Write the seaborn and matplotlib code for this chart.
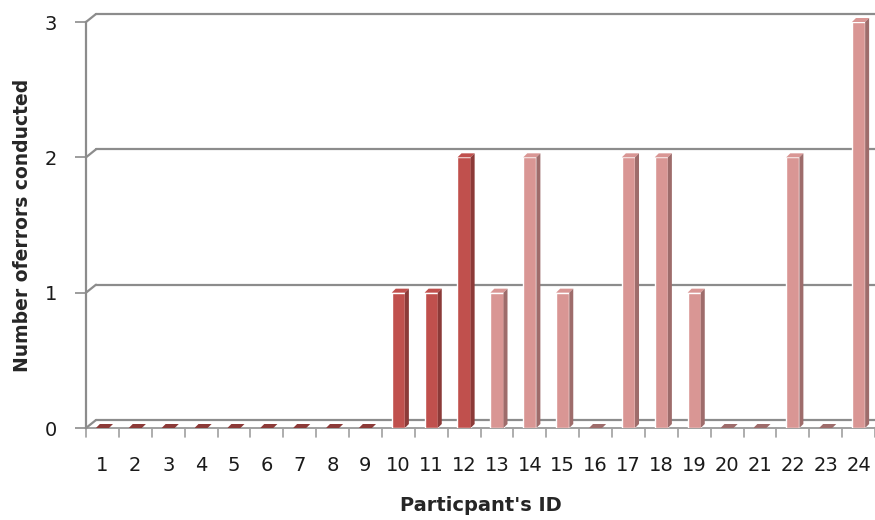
import numpy as np
import pandas as pd
import seaborn as sns
import matplotlib.pyplot as plt
from matplotlib.patches import Polygon
import matplotlib.transforms as mtransforms

# data
participants = [str(i) for i in range(1, 25)]
errors = [0, 0, 0, 0, 0, 0, 0, 0, 0, 1, 1, 2, 1, 2, 1, 0, 2, 2, 1, 0, 0, 2, 0, 3]
group = ['dark'] * 12 + ['light'] * 12

DARK = '#C0504D'
LIGHT = '#D99694'
DARK_SIDE = '#8C3A38'
LIGHT_SIDE = '#9E6C6B'
GRID = '#8C8C8C'

sns.set_style('white')
plt.rcParams['font.family'] = ['DejaVu Sans']
plt.rcParams['text.color'] = '#1a1a1a'

df = pd.DataFrame({'id': participants, 'errors': errors, 'group': group})

fig = plt.figure(figsize=(8.75, 5.2), dpi=100)
ax = fig.add_axes([86 / 875, 92 / 520, 789 / 875, 406 / 520])

colors = [DARK if g == 'dark' else LIGHT for g in group]
sns.barplot(data=df, x='id', y='errors', hue='id', palette=colors,
            legend=False, width=0.4, ax=ax, zorder=3, saturation=1)

ax.set_xlim(-0.5, 23.5)
ax.set_ylim(0, 3)

# back wall sits a few pixels up and to the right
blend = mtransforms.blended_transform_factory(ax.transAxes, ax.transData)
blend_off = mtransforms.offset_copy(blend, fig=fig, x=10, y=8, units='dots')
for v in [0, 1, 2, 3]:
    ax.plot([0, 1], [v, v], transform=blend_off, color=GRID, lw=1.6,
            clip_on=False, zorder=1)
    p0 = blend.transform((0, v))
    p1 = blend_off.transform((0, v))
    fig.add_artist(plt.Line2D([p0[0], p1[0]], [p0[1], p1[1]], transform=None,
                              color=GRID, lw=1.6, zorder=1))
# floor front edge
ax.plot([0, 1], [0, 0], transform=blend, color='#A0A0A0', lw=1.4, clip_on=False, zorder=2)
p0 = blend.transform((1, 0))
p1 = blend_off.transform((1, 0))
fig.add_artist(plt.Line2D([p0[0], p1[0]], [p0[1], p1[1]], transform=None,
                          color='#A0A0A0', lw=1.4))

# side and top faces of the bars
w = 0.4
dx = 4 / 32.9
dy = 4 / 135.3
for i, (v, g) in enumerate(zip(errors, group)):
    front = DARK if g == 'dark' else LIGHT
    side = DARK_SIDE if g == 'dark' else LIGHT_SIDE
    x0, x1 = i - w / 2, i + w / 2
    top = Polygon([(x0, v), (x1, v), (x1 + dx, v + dy), (x0 + dx, v + dy)],
                  closed=True, facecolor=side if v == 0 else front, edgecolor='none',
                  zorder=4, clip_on=False)
    ax.add_patch(top)
    if v > 0:
        sd = Polygon([(x1, 0), (x1 + dx, dy), (x1 + dx, v + dy), (x1, v)],
                     closed=True, facecolor=side, edgecolor='none', zorder=4, clip_on=False)
        ax.add_patch(sd)

for s in ['top', 'right', 'bottom']:
    ax.spines[s].set_visible(False)
ax.spines['left'].set_color(GRID)
ax.spines['left'].set_linewidth(1.6)

ax.set_yticks([0, 1, 2, 3])
ax.set_yticklabels(['0', '1', '2', '3'])
ax.set_xticks(range(24))
ax.set_xticklabels(participants)
ax.tick_params(axis='y', length=8, width=1.2, color=GRID, pad=13, labelsize=14,
               left=True, labelcolor='#1a1a1a')
ax.tick_params(axis='x', length=0, pad=20, labelsize=14, labelcolor='#1a1a1a')
# x tick marks between categories
for b in np.arange(-0.5, 24, 1):
    ax.plot([b, b], [0, -0.07], color='#A0A0A0', lw=1.2, clip_on=False)

ax.set_xlabel("Particpant's ID", fontsize=14, fontweight='bold', labelpad=15)
ax.set_ylabel('Number oferrors conducted', fontsize=13.5, fontweight='bold', labelpad=9)

fig.savefig('out.png', dpi=100)
